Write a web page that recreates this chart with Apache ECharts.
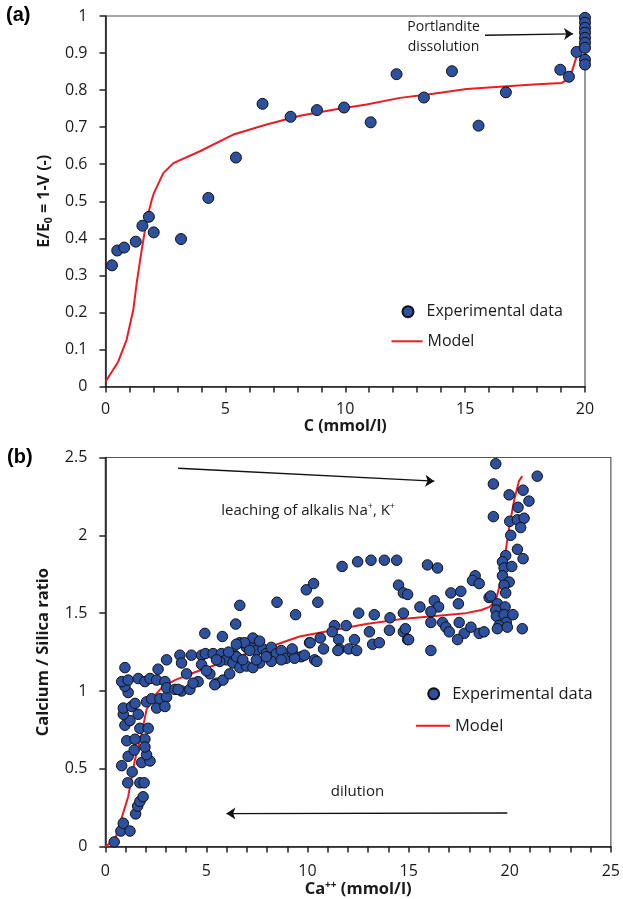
<!DOCTYPE html>
<html>
<head>
<meta charset="utf-8">
<script src="https://cdn.jsdelivr.net/npm/echarts@6/dist/echarts.min.js"></script>
<style>
  html, body { margin: 0; padding: 0; background: #fff; }
  #chart { width: 623px; height: 899px; }
</style>
</head>
<body>
<div id="chart"></div>
<script>
// ---- Panel (a): stiffness ratio E/E0 against calcium concentration C ----
const aExp = [
  [0.27, 0.327], [0.49, 0.367], [0.78, 0.375], [1.26, 0.391], [1.54, 0.434],
  [1.81, 0.458], [2.01, 0.416], [3.15, 0.398], [4.29, 0.509], [5.44, 0.618],
  [6.55, 0.763], [7.72, 0.728], [8.82, 0.746], [9.95, 0.753], [11.06, 0.713],
  [12.14, 0.843], [13.28, 0.780], [14.45, 0.851], [15.56, 0.704], [16.70, 0.794],
  [18.97, 0.855], [19.33, 0.836], [19.65, 0.903]
];
// points measured at the saturation concentration (portlandite dissolution)
const aExpSaturated = [
  [20, 0.995], [20, 0.982], [20, 0.968], [20, 0.955], [20, 0.941],
  [20, 0.928], [20, 0.914], [20, 0.882], [20, 0.869]
];
const aModel = [
  [0, 0.013], [0.53, 0.067], [0.88, 0.126], [1.16, 0.207], [1.30, 0.279],
  [1.51, 0.369], [1.72, 0.45], [1.93, 0.504], [2.02, 0.522], [2.41, 0.576],
  [2.83, 0.603], [3.94, 0.635], [5.33, 0.68], [6.72, 0.707], [8.11, 0.731],
  [9.5, 0.747], [10.89, 0.761], [12.28, 0.779], [13.67, 0.790], [15.06, 0.803],
  [16.45, 0.809], [17.84, 0.815], [19.02, 0.819], [19.37, 0.833], [19.65, 0.891],
  [19.86, 0.936], [19.95, 0.955]
];

// ---- Panel (b): Ca/Si ratio against Ca++ concentration ----
const bExpSteep = [
  [0.44, 0.03], [0.77, 0.10], [0.89, 0.15], [1.22, 0.10], [1.50, 0.21], [1.60, 0.26],
  [1.71, 0.29], [1.87, 0.32], [1.11, 0.41], [1.71, 0.41], [1.92, 0.41], [1.33, 0.48],
  [0.81, 0.52], [1.13, 0.58], [1.80, 0.54], [2.21, 0.55], [2.04, 0.59], [1.06, 0.68],
  [1.43, 0.62], [1.96, 0.69], [1.96, 0.64], [1.47, 0.69], [0.97, 0.78], [1.71, 0.76],
  [2.12, 0.76], [1.63, 0.85], [1.22, 0.81], [0.89, 0.85], [0.89, 0.89], [1.30, 0.90],
  [1.47, 0.92], [1.13, 0.99], [0.97, 1.03], [0.81, 1.06], [0.97, 1.15], [1.13, 1.07],
  [1.63, 1.08], [1.96, 1.06], [2.21, 1.08], [2.54, 1.07], [2.95, 1.06], [2.61, 1.14],
  [3.03, 1.20], [2.04, 0.93], [2.29, 0.95], [2.54, 0.89], [2.70, 0.95], [3.03, 0.96],
  [2.95, 0.90], [3.03, 1.02], [3.44, 1.01], [3.77, 1.00], [4.18, 1.01], [3.69, 1.23],
  [4.26, 1.23], [3.77, 1.18], [4.02, 1.11], [4.59, 1.06], [4.76, 1.23], [4.76, 1.17],
  [4.34, 1.05], [3.60, 1.01]
];
const bExpMid = [
  [4.95, 1.24], [5.33, 1.24], [5.74, 1.24], [5.99, 1.20], [6.31, 1.18], [6.40, 1.23],
  [6.65, 1.31], [6.98, 1.28], [7.30, 1.31], [7.47, 1.26], [7.79, 1.27], [7.96, 1.24],
  [7.63, 1.18], [8.21, 1.28], [8.46, 1.24], [8.70, 1.26], [8.95, 1.21], [9.27, 1.24],
  [9.69, 1.22], [10.10, 1.31], [10.35, 1.20], [5.17, 1.11], [5.50, 1.05], [5.82, 1.07],
  [6.15, 1.11], [6.65, 1.15], [6.98, 1.16], [7.30, 1.15], [5.66, 1.19], [6.65, 1.55],
  [6.45, 1.43], [5.79, 1.35], [4.92, 1.37], [8.49, 1.57], [9.41, 1.49], [9.94, 1.65],
  [10.30, 1.69], [10.51, 1.57], [7.30, 1.34], [6.89, 1.31], [6.48, 1.30], [7.63, 1.32],
  [8.21, 1.19], [8.70, 1.20], [9.36, 1.21], [9.85, 1.23], [9.24, 1.27], [10.13, 1.31],
  [10.46, 1.19], [10.63, 1.34], [10.79, 1.27], [5.00, 1.13], [5.50, 1.20], [6.48, 1.22],
  [7.14, 1.26], [7.47, 1.20], [7.96, 1.22], [5.41, 1.04], [6.10, 1.25], [6.80, 1.20]
];
const bExpHigh = [
  [11.71, 1.80], [12.48, 1.83], [13.14, 1.84], [13.80, 1.84], [14.41, 1.84], [14.50, 1.68],
  [14.74, 1.63], [12.53, 1.50], [13.30, 1.49], [14.08, 1.47], [14.74, 1.50], [13.06, 1.38],
  [14.05, 1.39], [14.74, 1.38], [14.95, 1.33], [11.33, 1.42], [11.91, 1.42], [11.22, 1.38],
  [11.54, 1.33], [12.32, 1.33], [11.58, 1.27], [12.04, 1.27], [12.43, 1.26], [13.22, 1.30],
  [13.55, 1.31], [11.50, 1.26], [15.93, 1.81], [16.43, 1.79], [14.95, 1.62], [15.56, 1.54],
  [16.27, 1.58], [16.48, 1.54], [17.09, 1.63], [17.58, 1.64], [17.46, 1.56], [16.10, 1.51],
  [16.10, 1.44], [16.68, 1.44], [16.84, 1.41], [17.01, 1.38], [17.50, 1.44], [17.75, 1.37],
  [17.42, 1.33], [18.08, 1.41], [18.49, 1.37], [18.73, 1.38], [18.98, 1.60], [16.10, 1.26],
  [15.00, 1.33], [14.84, 1.40], [18.29, 1.74], [18.16, 1.71], [18.49, 1.69]
];
const bExpSaturated = [
  [19.31, 2.46], [19.19, 2.33], [19.19, 2.12], [21.36, 2.38], [19.97, 2.26], [20.66, 2.29],
  [20.95, 2.22], [20.41, 2.18], [20.00, 2.09], [20.38, 2.10], [20.71, 2.11], [20.54, 2.05],
  [20.05, 2.00], [20.38, 1.91], [20.66, 1.85], [19.80, 1.87], [19.64, 1.83], [19.72, 1.79],
  [20.10, 1.80], [19.64, 1.74], [19.97, 1.70], [19.72, 1.68], [19.80, 1.63], [19.06, 1.61],
  [19.39, 1.56], [19.77, 1.54], [19.31, 1.52], [19.34, 1.48], [19.72, 1.49], [20.16, 1.49],
  [19.83, 1.44], [19.47, 1.42], [19.39, 1.40], [19.88, 1.41], [20.62, 1.40]
];
const bModel = [
  [0, 0], [0.48, 0.045], [1.13, 0.32], [1.47, 0.56], [1.80, 0.73], [2.04, 0.88],
  [2.37, 0.96], [2.78, 1.02], [3.44, 1.07], [4.43, 1.12], [5.5, 1.17], [6.5, 1.22],
  [7.5, 1.26], [8.5, 1.30], [9.6, 1.35], [11.25, 1.39], [12.9, 1.43], [14.54, 1.46],
  [16.18, 1.48], [17.83, 1.50], [18.6, 1.52], [19.0, 1.54], [19.31, 1.58], [19.56, 1.71],
  [19.80, 1.90], [19.97, 2.05], [20.21, 2.22], [20.46, 2.35], [20.62, 2.38]
];

const FONT = 'Open Sans';
const TXT = '#1a1a1a';
const MARKER = '#2d509f';
const RED = '#ec1c24';
const TICK_COLOR = '#222';

// labelled axes: line, tick labels and axis name
function axisBase(extra) {
  return Object.assign({
    type: 'value',
    axisLine: { show: true, onZero: false, lineStyle: { color: '#222', width: 1.6 } },
    axisTick: { show: false },
    splitLine: { show: false },
    axisLabel: { show: true, color: TXT, fontFamily: FONT, fontSize: 16 },
    nameLocation: 'middle',
    nameTextStyle: { color: TXT, fontFamily: FONT, fontSize: 16, fontWeight: 'bold' }
  }, extra);
}

// companion axes on the same side that only carry the tick marks
function tickAxis(extra, withMinor) {
  const ax = Object.assign({
    type: 'value',
    axisLine: { show: false, onZero: false },
    axisTick: { show: true, length: 6, lineStyle: { color: TICK_COLOR, width: 1.5 } },
    axisLabel: { show: true, color: 'rgba(0,0,0,0)', fontSize: 16, margin: 18 },
    splitLine: { show: false },
    silent: true
  }, extra);
  if (withMinor) {
    ax.minorTick = { show: true, splitNumber: 5, length: 6, lineStyle: { color: TICK_COLOR, width: 1.5 } };
  }
  return ax;
}

const legendText = { color: TXT, fontFamily: FONT, fontSize: 16 };

const chart = echarts.init(document.getElementById('chart'));

chart.setOption({
  animation: false,
  backgroundColor: '#fff',
  title: [
    { text: '(a)', left: 6, top: 5, padding: 0,
      textStyle: { fontFamily: 'Liberation Sans', fontWeight: 'bold', fontSize: 20, color: '#000' } },
    { text: '(b)', left: 7, top: 447, padding: 0,
      textStyle: { fontFamily: 'Liberation Sans', fontWeight: 'bold', fontSize: 20, color: '#000' } }
  ],
  grid: [
    { left: 105.5, top: 16, width: 479.5, height: 370.5, show: true,
      borderColor: '#555', borderWidth: 1.2, backgroundColor: 'transparent' },
    { left: 105.3, top: 457.5, width: 506.7, height: 389.5, show: true,
      borderColor: '#555', borderWidth: 1.2, backgroundColor: 'transparent' }
  ],
  legend: [
    { left: 401.5, top: 303.7, padding: 0, itemWidth: 11, itemHeight: 11,
      icon: 'circle', selectedMode: false, data: ['Experimental data'],
      textStyle: Object.assign({ padding: [0, 0, 0, 8] }, legendText) },
    { left: 391.5, top: 333.3, padding: 0, itemWidth: 31, itemHeight: 2,
      icon: 'rect', selectedMode: false, data: ['Model'], textStyle: legendText },
    { left: 427.2, top: 685.3, padding: 0, itemWidth: 11, itemHeight: 11,
      icon: 'circle', selectedMode: false, data: ['Experimental data'],
      textStyle: Object.assign({ padding: [0, 0, 0, 8] }, legendText, { fontSize: 16.5 }) },
    { left: 416, top: 717.3, padding: 0, itemWidth: 34, itemHeight: 2,
      icon: 'rect', selectedMode: false, data: ['Model'],
      textStyle: Object.assign({}, legendText, { fontSize: 16.5 }) }
  ],
  xAxis: [
    axisBase({
      gridIndex: 0, position: 'bottom', min: 0, max: 20, interval: 5,
      axisLabel: { show: true, color: TXT, fontFamily: FONT, fontSize: 16, margin: 15 },
      name: 'C (mmol/l)', nameGap: 28
    }),
    axisBase({
      gridIndex: 1, position: 'bottom', min: 0, max: 25, interval: 5,
      axisLabel: { show: true, color: TXT, fontFamily: FONT, fontSize: 16, margin: 17 },
      name: '{t|Ca}{p|++}{t| (mmol/l)}', nameGap: 26,
      nameTextStyle: {
        color: TXT, fontFamily: FONT, fontWeight: 'bold',
        rich: {
          t: { fontFamily: FONT, fontSize: 16.5, fontWeight: 'bold', color: TXT },
          p: { fontFamily: FONT, fontSize: 10, fontWeight: 'bold', color: TXT, padding: [0, 0, 8, 0] }
        }
      }
    }),
    tickAxis({ gridIndex: 0, position: 'bottom', min: 0, max: 20, interval: 5 }, true),
    tickAxis({ gridIndex: 1, position: 'bottom', min: 0, max: 25, interval: 5 }, true)
  ],
  yAxis: [
    axisBase({
      gridIndex: 0, position: 'left', min: 0, max: 1, interval: 0.1,
      axisLabel: { show: true, color: TXT, fontFamily: FONT, fontSize: 16, margin: 18 },
      name: '{t|E/E}{s|0}{t| = 1-V (-)}', nameGap: 50,
      nameTextStyle: {
        color: TXT, fontFamily: FONT, fontWeight: 'bold',
        rich: {
          t: { fontFamily: FONT, fontSize: 16, fontWeight: 'bold', color: TXT },
          s: { fontFamily: FONT, fontSize: 10.5, fontWeight: 'bold', color: TXT, padding: [8, 0, 0, 0] }
        }
      }
    }),
    axisBase({
      gridIndex: 1, position: 'left', min: 0, max: 2.5, interval: 0.5,
      axisLabel: { show: true, color: TXT, fontFamily: FONT, fontSize: 16, margin: 18 },
      name: 'Calcium / Silica ratio', nameGap: 54,
      nameTextStyle: { color: TXT, fontFamily: FONT, fontSize: 16.5, fontWeight: 'bold' }
    }),
    tickAxis({ gridIndex: 0, position: 'left', min: 0, max: 1, interval: 0.1 }, false),
    tickAxis({ gridIndex: 1, position: 'left', min: 0, max: 2.5, interval: 0.5 }, false)
  ],
  series: [
    {
      name: 'Model', type: 'line', xAxisIndex: 0, yAxisIndex: 0,
      data: aModel, symbol: 'none', z: 2, color: RED,
      itemStyle: { color: RED },
      lineStyle: { color: RED, width: 2 },
      markLine: {
        silent: true, symbol: ['none', 'arrow'], symbolSize: 9, animation: false,
        lineStyle: { color: '#111', width: 1.3, type: 'solid' },
        label: { show: false },
        data: [[{ coord: [15.83, 0.948] }, { coord: [19.5, 0.952] }]]
      },
      markPoint: {
        silent: true, symbol: 'circle', symbolSize: 1, itemStyle: { color: 'rgba(0,0,0,0)' },
        label: {
          show: true, position: 'inside', formatter: 'Portlandite\ndissolution',
          color: TXT, fontFamily: FONT, fontSize: 14, lineHeight: 20, align: 'center'
        },
        data: [{ coord: [14.1, 0.943] }]
      }
    },
    {
      name: 'Experimental data', type: 'scatter', xAxisIndex: 0, yAxisIndex: 0,
      data: aExp.concat(aExpSaturated), symbol: 'circle', symbolSize: 11, z: 3, clip: false,
      color: MARKER,
      itemStyle: { color: MARKER, borderColor: '#111', borderWidth: 1, opacity: 1 }
    },
    {
      name: 'Model', type: 'line', xAxisIndex: 1, yAxisIndex: 1,
      data: bModel, symbol: 'none', z: 2, color: RED,
      itemStyle: { color: RED },
      lineStyle: { color: RED, width: 2 },
      markLine: {
        silent: true, symbol: ['none', 'arrow'], symbolSize: 9, animation: false,
        lineStyle: { color: '#111', width: 1.3, type: 'solid' },
        label: { show: false },
        data: [
          [{ coord: [3.60, 2.431] }, { coord: [16.27, 2.348] }],
          [{ coord: [19.88, 0.216] }, { coord: [5.99, 0.212] }]
        ]
      },
      markPoint: {
        silent: true, symbol: 'circle', symbolSize: 1, itemStyle: { color: 'rgba(0,0,0,0)' },
        label: {
          show: true, position: 'inside', color: TXT, fontFamily: FONT, fontSize: 15,
          rich: {
            t: { color: TXT, fontFamily: FONT, fontSize: 15 },
            p: { color: TXT, fontFamily: FONT, fontSize: 9, padding: [0, 0, 7, 0] }
          }
        },
        data: [
          { coord: [10.03, 2.16], label: { formatter: '{t|leaching of alkalis Na}{p|+}{t|, K}{p|+}' } },
          { coord: [12.47, 0.354], label: { formatter: '{t|dilution}' } }
        ]
      }
    },
    {
      name: 'Experimental data', type: 'scatter', xAxisIndex: 1, yAxisIndex: 1,
      data: bExpSteep.concat(bExpMid, bExpHigh, bExpSaturated),
      symbol: 'circle', symbolSize: 10.5, z: 3, clip: false,
      color: MARKER,
      itemStyle: { color: MARKER, borderColor: '#111', borderWidth: 1, opacity: 1 }
    }
  ]
});
</script>
</body>
</html>
